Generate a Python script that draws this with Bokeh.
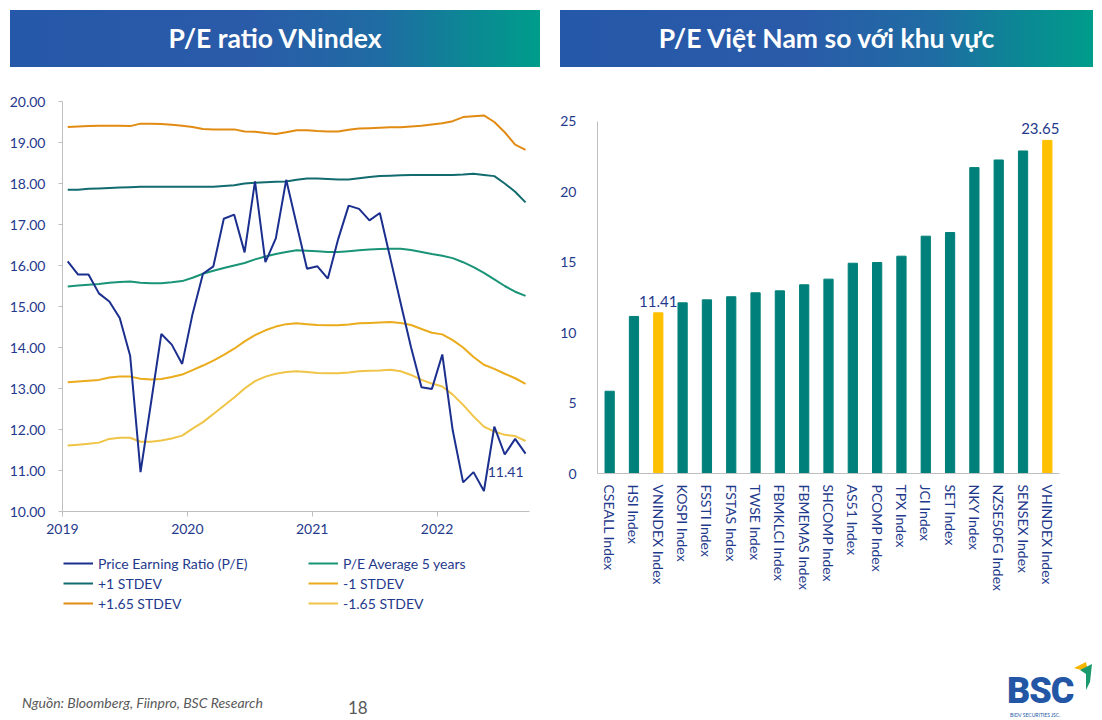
from bokeh.plotting import figure
from bokeh.models import (ColumnDataSource, Legend, LegendItem, FixedTicker, NumeralTickFormatter,
                          Range1d, FactorRange, LabelSet, Div)
from bokeh.layouts import column, row
from bokeh.core.properties import value
from bokeh.embed import file_html
from bokeh.resources import INLINE

# ---------------- data ----------------
start_year = 2019
n_months = 45  # Jan 2019 .. Sep 2022
pe = [16.10, 15.78, 15.78, 15.32, 15.12, 14.72, 13.80, 10.96, 12.64, 14.33, 14.07, 13.60,
      14.82, 15.80, 15.98, 17.14, 17.24, 16.32, 18.05, 16.08, 16.66, 18.09, 17.00, 15.92,
      15.98, 15.68, 16.65, 17.46, 17.38, 17.10, 17.28, 16.18, 15.08, 14.00, 13.03, 12.99,
      13.83, 11.98, 10.71, 10.96, 10.50, 12.07, 11.39, 11.77, 11.41]
pe_avg = [15.49, 15.51, 15.53, 15.55, 15.58, 15.60, 15.61, 15.58, 15.57, 15.57, 15.59, 15.62,
          15.70, 15.80, 15.87, 15.94, 16.00, 16.06, 16.15, 16.22, 16.28, 16.33, 16.37, 16.36,
          16.35, 16.33, 16.33, 16.35, 16.37, 16.39, 16.40, 16.41, 16.41, 16.38, 16.33, 16.28,
          16.24, 16.18, 16.08, 15.96, 15.82, 15.66, 15.50, 15.36, 15.26]
plus1 = [17.85, 17.85, 17.87, 17.88, 17.89, 17.90, 17.91, 17.92, 17.92, 17.92, 17.92, 17.92,
         17.92, 17.92, 17.92, 17.94, 17.96, 18.00, 18.02, 18.03, 18.04, 18.05, 18.09, 18.12,
         18.12, 18.11, 18.10, 18.10, 18.13, 18.16, 18.18, 18.19, 18.20, 18.21, 18.21, 18.21,
         18.21, 18.21, 18.22, 18.24, 18.21, 18.18, 18.00, 17.80, 17.54]
plus165 = [19.38, 19.39, 19.40, 19.41, 19.41, 19.41, 19.40, 19.46, 19.46, 19.45, 19.43, 19.41,
           19.38, 19.33, 19.32, 19.32, 19.32, 19.27, 19.26, 19.23, 19.21, 19.25, 19.30, 19.30,
           19.28, 19.27, 19.27, 19.31, 19.34, 19.35, 19.36, 19.37, 19.37, 19.39, 19.41, 19.44,
           19.47, 19.52, 19.62, 19.64, 19.66, 19.50, 19.25, 18.95, 18.82]
minus1 = [13.15, 13.17, 13.19, 13.21, 13.27, 13.29, 13.29, 13.24, 13.22, 13.23, 13.28, 13.34,
          13.45, 13.56, 13.68, 13.82, 13.97, 14.15, 14.30, 14.42, 14.51, 14.57, 14.59, 14.57,
          14.55, 14.54, 14.54, 14.56, 14.59, 14.60, 14.61, 14.62, 14.60, 14.55, 14.45, 14.36,
          14.32, 14.18, 14.00, 13.77, 13.58, 13.48, 13.36, 13.25, 13.11]
minus165 = [11.61, 11.63, 11.65, 11.68, 11.77, 11.80, 11.80, 11.70, 11.70, 11.73, 11.78, 11.85,
            12.02, 12.18, 12.38, 12.58, 12.78, 13.00, 13.18, 13.29, 13.36, 13.40, 13.42, 13.40,
            13.38, 13.37, 13.37, 13.39, 13.42, 13.43, 13.44, 13.46, 13.42, 13.33, 13.21, 13.12,
            13.05, 12.85, 12.60, 12.32, 12.07, 11.95, 11.87, 11.84, 11.72]
year_ticks = [2019, 2020, 2021, 2022]
pe_ticks = [10, 11, 12, 13, 14, 15, 16, 17, 18, 19, 20]

indices = ["CSEALL Index", "HSI Index", "VNINDEX Index", "KOSPI Index", "FSSTI Index",
           "FSTAS Index", "TWSE Index", "FBMKLCI Index", "FBMEMAS Index", "SHCOMP Index",
           "AS51 Index", "PCOMP Index", "TPX Index", "JCI Index", "SET Index", "NKY Index",
           "NZSE50FG Index", "SENSEX Index", "VHINDEX Index"]
index_pe = [5.84, 11.15, 11.41, 12.12, 12.33, 12.55, 12.83, 12.97, 13.40, 13.80, 14.93, 14.98,
            15.43, 16.85, 17.11, 21.72, 22.26, 22.90, 23.65]
highlighted = ["VNINDEX Index", "VHINDEX Index"]
bar_ticks = [0, 5, 10, 15, 20, 25]

series = [  # (column, legend label, colour) in legend order (column-major, 2 columns)
    ("pe", "Price Earning Ratio (P/E)", "#1b2f8e"),
    ("p1", "+1 STDEV", "#126b6f"),
    ("p165", "+1.65 STDEV", "#e28b12"),
    ("avg", "P/E Average 5 years", "#1a9477"),
    ("m1", "-1 STDEV", "#eaab1c"),
    ("m165", "-1.65 STDEV", "#f0c446"),
]
draw_order = ["p165", "p1", "avg", "m1", "m165", "pe"]

# ---------------- styles ----------------
FONT = "Lato"
NAVY = "#1f3a8c"
AXIS_GRAY = "#bfbfbf"
C_BAR = "#00807a"
C_HI = "#ffc000"


def style_axis(ax):
    ax.axis_line_color = AXIS_GRAY
    ax.major_tick_line_color = AXIS_GRAY
    ax.minor_tick_line_color = None
    ax.major_label_text_font = FONT
    ax.major_label_text_font_size = "14px"
    ax.major_label_text_color = NAVY
    ax.major_tick_in = 0


def bare(fig):
    fig.frame_align = False
    fig.outline_line_color = None
    fig.background_fill_color = None
    fig.border_fill_color = None
    fig.xgrid.visible = False
    fig.ygrid.visible = False


# ---------------- left chart ----------------
months_x = [start_year + (i + 0.5) / 12 for i in range(n_months)]
src = ColumnDataSource(dict(x=months_x, pe=pe, avg=pe_avg, p1=plus1, p165=plus165,
                            m1=minus1, m165=minus165))
colors = {k: c for k, _, c in series}

p1 = figure(width=552, height=462, x_range=Range1d(2019, 2022.74), y_range=Range1d(10, 20),
            output_backend="svg", toolbar_location=None,
            min_border_left=62, min_border_right=23, min_border_top=23, min_border_bottom=29)
bare(p1)
for k in draw_order:
    p1.line("x", k, source=src, color=colors[k], line_width=2)

xax = p1.xaxis[0]
style_axis(xax)
xax.ticker = FixedTicker(ticks=year_ticks)
xax.formatter = NumeralTickFormatter(format="0")
xax.major_tick_out = 5
xax.major_label_standoff = 7

yax = p1.yaxis[0]
style_axis(yax)
yax.ticker = FixedTicker(ticks=pe_ticks)
yax.formatter = NumeralTickFormatter(format="0.00")
yax.major_tick_out = 4
yax.major_label_standoff = 13

last_src = ColumnDataSource(dict(x=[months_x[-1]], y=[pe[-1]], t=["%.2f" % pe[-1]]))
p1.add_layout(LabelSet(x="x", y="y", text="t", source=last_src, text_align="right",
                       text_baseline="middle", x_offset=-2, y_offset=-18,
                       text_font=value(FONT), text_font_size=value("14px"),
                       text_color=NAVY))

# legend strip under the chart (same series, drawn outside its visible range)
p_leg = figure(width=552, height=80, x_range=Range1d(2019, 2022.74), y_range=Range1d(0, 1),
               output_backend="svg", toolbar_location=None,
               x_axis_location=None, y_axis_location=None,
               min_border_left=0, min_border_right=0, min_border_top=0, min_border_bottom=0)
bare(p_leg)
items = []
for k, lab, c in series:
    r = p_leg.line("x", k, source=src, color=c, line_width=2)
    items.append(LegendItem(label=lab, renderers=[r]))
legend = Legend(items=items, ncols=2, nrows=3, location=(63, 7))
legend.label_text_font = FONT
legend.label_text_font_size = "14px"
legend.label_text_color = NAVY
legend.glyph_width = 30
legend.glyph_height = 20
legend.label_height = 20
legend.label_width = 210
legend.label_standoff = 5
legend.spacing = 0
legend.padding = 0
legend.margin = 0
legend.border_line_color = None
legend.background_fill_alpha = 0
p_leg.add_layout(legend, "center")

# ---------------- right chart ----------------
bar_colors = [C_HI if c in highlighted else C_BAR for c in indices]
bsrc = ColumnDataSource(dict(x=indices, top=index_pe, color=bar_colors))
p2 = figure(width=550, height=542, x_range=FactorRange(*indices, range_padding=0),
            y_range=Range1d(0, 26.2), output_backend="svg", toolbar_location=None,
            min_border_left=45, min_border_right=43, min_border_top=26, min_border_bottom=147)
bare(p2)
p2.vbar(x="x", top="top", width=0.38, color="color", source=bsrc)

for ax in (p2.xaxis[0], p2.yaxis[0]):
    style_axis(ax)
    ax.major_tick_line_color = None
p2.yaxis[0].ticker = FixedTicker(ticks=bar_ticks)
p2.yaxis[0].major_label_standoff = 15
p2.yaxis[0].bounds = (0, 25)
p2.xaxis[0].major_label_orientation = "vertical"
p2.xaxis[0].major_label_standoff = 5

hi_vals = [v for c, v in zip(indices, index_pe) if c in highlighted]
hsrc = ColumnDataSource(dict(x=highlighted, y=hi_vals, t=["%.2f" % v for v in hi_vals],
                             dx=[0 if c != indices[-1] else -7 for c in highlighted]))
p2.add_layout(LabelSet(x="x", y="y", text="t", source=hsrc, text_align="center",
                       text_baseline="bottom", y_offset=6, x_offset="dx",
                       text_font=value(FONT), text_font_size=value("15px"),
                       text_color=NAVY))

# ---------------- header & footer ----------------
grad = "linear-gradient(90deg, #2658a9 0%, #2a5ba9 45%, #1f6ca3 70%, #0a8a93 88%, #009d8b 100%)"
box = ("position:absolute;top:10px;left:{l}px;width:{w}px;height:57px;background:" + grad +
       ";color:white;font-family:Lato;font-weight:bold;font-size:26.5px;display:flex;"
       "align-items:center;justify-content:center;white-space:nowrap;")
header = Div(text=(
    '<div style="position:relative;width:1102px;height:78px;">'
    '<div style="' + box.format(l=10, w=530) + '">P/E ratio VNindex</div>'
    '<div style="' + box.format(l=560, w=533) + '">P/E Việt Nam so với khu vực</div>'
    '</div>'), width=1102, height=78, margin=0)

footer = Div(text=(
    '<div style="position:relative;width:1102px;height:100px;font-family:Lato;">'
    '<div style="position:absolute;left:22px;top:73px;font-size:14px;font-style:italic;color:#595959;white-space:nowrap;">'
    'Nguồn: Bloomberg, Fiinpro, BSC Research</div>'
    '<div style="position:absolute;left:348px;top:76px;font-size:17px;color:#595959;">18</div>'
    '<div style="position:absolute;left:1007px;top:57px;font-size:36px;line-height:0.8;font-weight:900;color:#2356a5;'
    'font-family:Roboto;letter-spacing:-1px;">BSC</div>'
    '<div style="position:absolute;left:1010px;top:93px;font-size:5px;line-height:1;color:#2356a5;white-space:nowrap;">'
    'BIDV SECURITIES JSC.</div>'
    '<svg style="position:absolute;left:1072px;top:40px;" width="22" height="32">'
    '<polygon points="2,8 14,2 16,12" fill="#f5b400"/>'
    '<polygon points="8,10 20,4 18,22 14,30 14,14" fill="#1a9a6c"/>'
    '</svg>'
    '</div>'), width=1102, height=100, margin=0)

layout = column(header, row(column(p1, p_leg, spacing=0), p2, spacing=0), footer, spacing=0)

with open("out.html", "w") as f:
    f.write(file_html(layout, INLINE))
